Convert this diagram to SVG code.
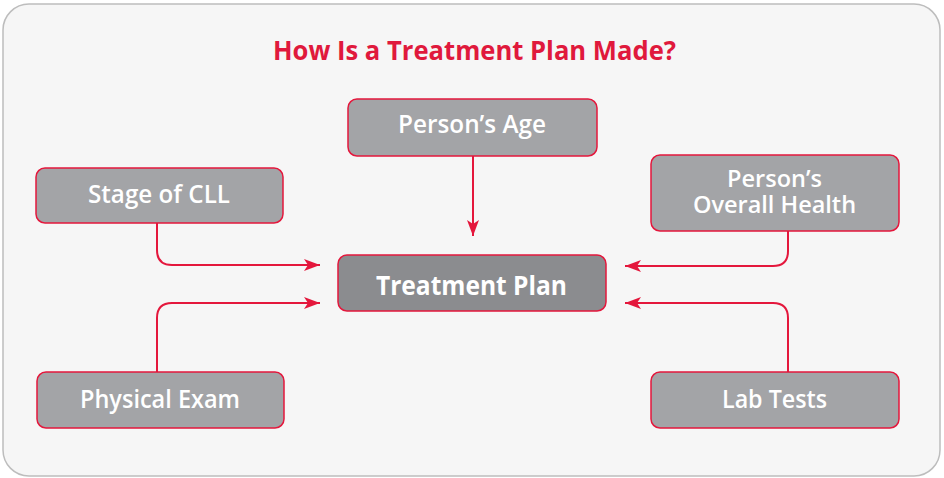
<svg xmlns="http://www.w3.org/2000/svg" width="944" height="478" viewBox="0 0 944 478">
<style>
.node rect{fill:#a3a4a7;stroke:#e4173c;stroke-width:1.5}
.node text{fill:#ffffff;font-family:"Open Sans","Liberation Sans",sans-serif;font-size:24.5px;font-weight:600;text-anchor:middle}
.conn path{fill:none;stroke:#e4173c;stroke-width:2}
</style>
<defs>
<marker id="ah" viewBox="0 0 16 12" refX="16" refY="6" markerWidth="16" markerHeight="12" markerUnits="userSpaceOnUse" orient="auto">
<path d="M0,0 L16,6 L0,12 L4,6 Z" fill="#e4173c"/>
</marker>
</defs>
<rect x="3" y="4" width="937" height="472" rx="26" fill="#f6f6f6" stroke="#bdbdbd" stroke-width="1.5"/>
<text x="474.5" y="60" text-anchor="middle" font-family="'Open Sans','Liberation Sans',sans-serif" font-size="27.5" font-weight="bold" fill="#e0193c" textLength="403" lengthAdjust="spacingAndGlyphs">How Is a Treatment Plan Made?</text>
<g class="conn">
<path d="M473,156 V236" marker-end="url(#ah)"/>
<path d="M157,223 V250 Q157,265 172,265 H320" marker-end="url(#ah)"/>
<path d="M157,372 V318 Q157,303 172,303 H320" marker-end="url(#ah)"/>
<path d="M788,231 V251 Q788,266 773,266 H625" marker-end="url(#ah)"/>
<path d="M788,372 V318 Q788,303 773,303 H625" marker-end="url(#ah)"/>
</g>
<g id="age" class="node"><rect x="348" y="99" width="249" height="57" rx="9"/><text x="472" y="133" textLength="148" lengthAdjust="spacingAndGlyphs">Person’s Age</text></g>
<g id="stage" class="node"><rect x="36" y="168" width="247" height="55" rx="9"/><text x="159" y="203" textLength="142" lengthAdjust="spacingAndGlyphs">Stage of CLL</text></g>
<g id="health" class="node"><rect x="651" y="155" width="248" height="76" rx="9"/><text style="font-size:23.5px"><tspan x="774.5" y="187">Person’s</tspan><tspan x="774.5" y="213">Overall Health</tspan></text></g>
<g id="plan" class="node"><rect x="338" y="255" width="268" height="56" rx="9" style="fill:#8b8c8f"/><text x="471.5" y="295" textLength="191" lengthAdjust="spacingAndGlyphs" style="font-size:27px;font-weight:bold">Treatment Plan</text></g>
<g id="exam" class="node"><rect x="37" y="372" width="247" height="56" rx="9"/><text x="160" y="408" textLength="160" lengthAdjust="spacingAndGlyphs">Physical Exam</text></g>
<g id="lab" class="node"><rect x="651" y="372" width="248" height="56" rx="9"/><text x="774.5" y="408" textLength="105" lengthAdjust="spacingAndGlyphs">Lab Tests</text></g>
</svg>
